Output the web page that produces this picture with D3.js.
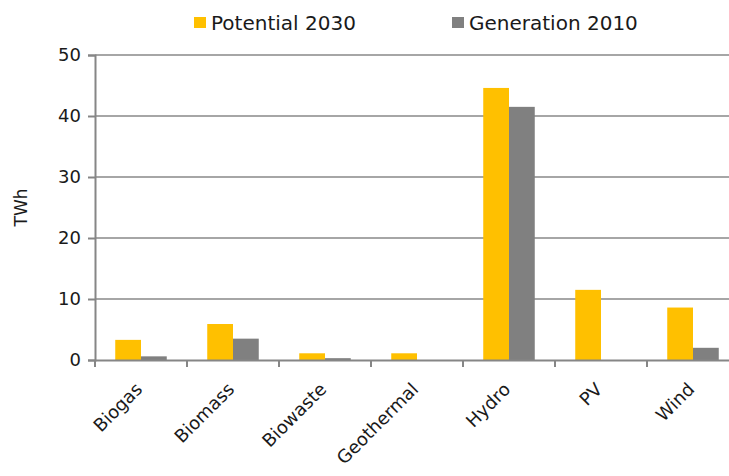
<html>
<head>
  <script src="https://d3js.org/d3.v7.min.js"></script>
  <style>
    body { margin: 0; background: #fff; }
    text { font-family: "DejaVu Sans", sans-serif; fill: #1a1a1a; }
  </style>
</head>
<body>
  <svg id="chart"></svg>

  <script>
    const categories = ['Biogas', 'Biomass', 'Biowaste', 'Geothermal', 'Hydro', 'PV', 'Wind'];
    const potential2030 = [3.3, 5.9, 1.1, 1.1, 44.6, 11.5, 8.6];
    const generation2010 = [0.6, 3.5, 0.3, 0, 41.5, 0, 2.0];
    const seriesNames = ['Potential 2030', 'Generation 2010'];
    const seriesColors = ['#FFC000', '#808080'];
    const yTicks = [0, 10, 20, 30, 40, 50];

    const width = 729, height = 476;
    const margin = { left: 95, top: 55, bottom: 116 };
    const plotW = 644; // runs a little past the right edge, as in the original
    const plotH = height - margin.top - margin.bottom;

    const svg = d3.select('#chart').attr('width', width).attr('height', height);

    const x = d3.scaleBand().domain(categories).range([margin.left, margin.left + plotW]);
    const gap = x.bandwidth() * 0.22;
    const inner = d3.scaleBand().domain(seriesNames).range([gap, x.bandwidth() - gap]);
    const y = d3.scaleLinear().domain([0, 50]).range([margin.top + plotH, margin.top]);

    // gridlines
    svg.append('g')
      .selectAll('line')
      .data(yTicks.slice(1))
      .enter().append('line')
      .attr('x1', margin.left).attr('x2', margin.left + plotW)
      .attr('y1', d => y(d)).attr('y2', d => y(d))
      .attr('stroke', '#A6A6A6').attr('stroke-width', 2);

    // bars
    const rows = categories.map((c, i) => ({ cat: c, vals: [potential2030[i], generation2010[i]] }));
    svg.append('g')
      .selectAll('g')
      .data(rows)
      .enter().append('g')
      .attr('transform', d => `translate(${x(d.cat)},0)`)
      .selectAll('rect')
      .data(d => d.vals.map((v, j) => ({ name: seriesNames[j], v: v, color: seriesColors[j] })))
      .enter().append('rect')
      .attr('x', d => inner(d.name))
      .attr('width', inner.bandwidth())
      .attr('y', d => y(d.v))
      .attr('height', d => y(0) - y(d.v))
      .attr('fill', d => d.color);

    // y axis
    const yAxis = svg.append('g')
      .attr('transform', `translate(${margin.left},0)`)
      .call(d3.axisLeft(y).tickValues(yTicks).tickSize(7).tickPadding(7).tickFormat(d3.format('d')));
    yAxis.select('.domain').attr('stroke', '#868686').attr('stroke-width', 2);
    yAxis.selectAll('.tick line').attr('stroke', '#868686').attr('stroke-width', 2);
    yAxis.selectAll('.tick text').style('font-size', '18px').attr('fill', '#1a1a1a');

    // x axis
    const xAxis = svg.append('g')
      .attr('transform', `translate(0,${y(0)})`)
      .call(d3.axisBottom(x).tickSize(0).tickFormat(''));
    xAxis.select('.domain').attr('stroke', '#868686').attr('stroke-width', 2);

    // category boundary ticks
    svg.append('g')
      .selectAll('line')
      .data(categories)
      .enter().append('line')
      .attr('x1', d => x(d)).attr('x2', d => x(d))
      .attr('y1', y(0)).attr('y2', y(0) + 7)
      .attr('stroke', '#868686').attr('stroke-width', 2);

    // rotated category labels
    svg.append('g')
      .selectAll('text')
      .data(categories)
      .enter().append('text')
      .attr('transform', d => `translate(${x(d) + x.bandwidth() / 2 - 2},${y(0) + 26}) rotate(-45)`)
      .attr('text-anchor', 'end')
      .attr('dy', '0.35em')
      .style('font-size', '18px')
      .text(d => d);

    // y title
    svg.append('text')
      .attr('transform', `translate(21,${(y(0) + y(50)) / 2}) rotate(-90)`)
      .attr('text-anchor', 'middle')
      .attr('dy', '0.35em')
      .style('font-size', '17px')
      .text('TWh');

    // legend
    const legendX = [194, 452];
    const legend = svg.append('g')
      .selectAll('g')
      .data(seriesNames)
      .enter().append('g')
      .attr('transform', (d, i) => `translate(${legendX[i]},17)`);
    legend.append('rect').attr('width', 12).attr('height', 11).attr('fill', (d, i) => seriesColors[i]);
    legend.append('text')
      .attr('x', 17).attr('y', 6).attr('dy', '0.35em')
      .style('font-size', '20px')
      .text(d => d);
  </script>
</body>
</html>
